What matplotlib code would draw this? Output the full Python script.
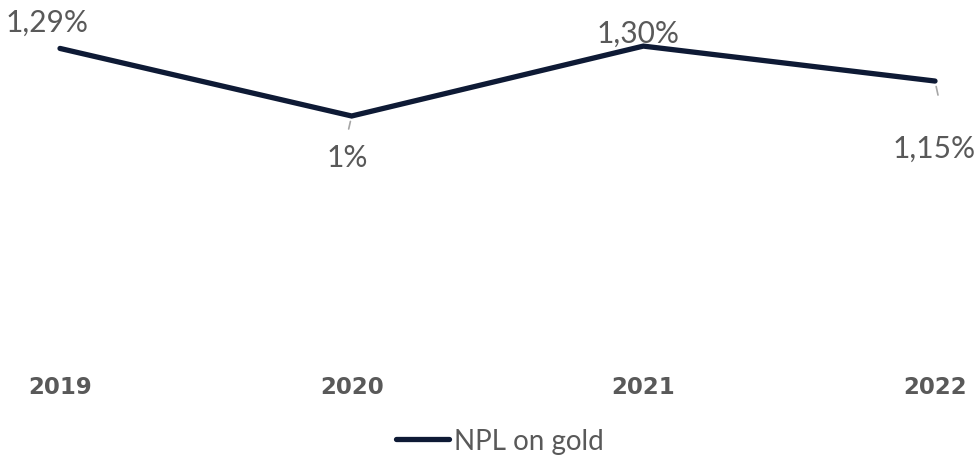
import matplotlib
matplotlib.use("Agg")
import matplotlib.pyplot as plt

years = ["2019", "2020", "2021", "2022"]
npl = [1.29, 1.00, 1.30, 1.15]
labels = ["1,29%", "1%", "1,30%", "1,15%"]

line_color = "#0e1a35"
text_color = "#595959"
label_font = ["Lato", "DejaVu Sans"]

fig = plt.figure(figsize=(9.76, 4.56), dpi=100)
ax = fig.add_axes([60 / 976, 106 / 456, 875 / 976, 1.4 * 233 / 456])
x = list(range(len(years)))
ax.plot(x, npl, color=line_color, lw=3.8, solid_capstyle="round",
        solid_joinstyle="miter", clip_on=False, label="NPL on gold")
ax.set_xlim(0, 3)
ax.set_ylim(0, 1.4)
for s in ax.spines.values():
    s.set_visible(False)
ax.set_yticks([])
ax.set_xticks([])

# year labels
for i, yr in enumerate(years):
    fig.text((60 + i * 291.7) / 976, 1 - 387 / 456, yr, ha="center", va="center",
             fontsize=16.5, fontweight="bold", color=text_color, family="DejaVu Sans")

# data labels (pixel offsets from the point)
offsets = [(-13, 27), (-4, -41), (-5, 13), (-1, -67)]
leaders = [None, ((0, -5), (-3, -13)), None, ((0, -4), (3, -14))]
for i, (lab, (dx, dy)) in enumerate(zip(labels, offsets)):
    ax.annotate(lab, (x[i], npl[i]), xytext=(dx * 0.72, dy * 0.72),
                textcoords="offset points", ha="center", va="center",
                fontsize=21.5, color=text_color, family=label_font,
                annotation_clip=False)
    if leaders[i]:
        (x0, y0), (x1, y1) = leaders[i]
        ax.annotate("", (x[i], npl[i]), xytext=(x1 * 0.72, y1 * 0.72),
                    textcoords="offset points", annotation_clip=False,
                    arrowprops=dict(arrowstyle="-", color="#a6a6a6", lw=1.2,
                                    shrinkA=0, shrinkB=4))

leg = fig.legend(loc="center", bbox_to_anchor=(500 / 976, 1 - 442 / 456),
                 frameon=False, handlelength=1.9, handletextpad=0.2,
                 borderpad=0, borderaxespad=0,
                 prop={"family": label_font, "size": 20})
for t in leg.get_texts():
    t.set_color(text_color)

fig.savefig("out.png", dpi=100)
